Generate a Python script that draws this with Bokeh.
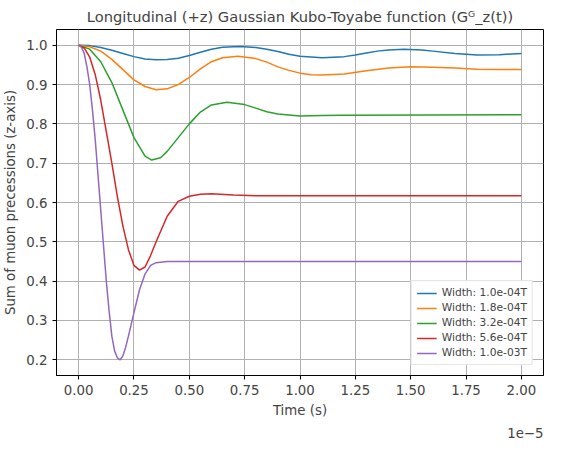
from bokeh.plotting import figure
from bokeh.models import Range1d, FixedTicker, Title
from bokeh.embed import file_html
from bokeh.resources import INLINE

# time in units of 1e-5 s
t_blue = [0, 0.05, 0.1, 0.15, 0.2, 0.25, 0.3, 0.35, 0.4, 0.45, 0.5, 0.55, 0.6, 0.65, 0.73, 0.8, 0.85, 0.9, 0.95, 1.0, 1.1, 1.2, 1.25, 1.3, 1.35, 1.4, 1.47, 1.55, 1.6, 1.7, 1.8, 1.9, 2.0]
y_blue = [1.0, 0.999, 0.994, 0.987, 0.979, 0.971, 0.965, 0.963, 0.964, 0.967, 0.974, 0.982, 0.99, 0.995, 0.997, 0.994, 0.99, 0.984, 0.977, 0.972, 0.968, 0.971, 0.975, 0.98, 0.985, 0.988, 0.99, 0.988, 0.985, 0.979, 0.975, 0.976, 0.979]

t_orange = [0, 0.05, 0.1, 0.15, 0.2, 0.25, 0.3, 0.35, 0.4, 0.45, 0.5, 0.55, 0.6, 0.65, 0.72, 0.8, 0.85, 0.9, 0.95, 1.0, 1.05, 1.1, 1.2, 1.3, 1.4, 1.5, 1.6, 1.7, 1.8, 1.9, 2.0]
y_orange = [1.0, 0.996, 0.985, 0.964, 0.938, 0.912, 0.895, 0.887, 0.889, 0.9, 0.918, 0.94, 0.958, 0.968, 0.972, 0.966, 0.957, 0.945, 0.936, 0.929, 0.925, 0.924, 0.927, 0.935, 0.942, 0.945, 0.944, 0.942, 0.939, 0.938, 0.938]

t_green = [0, 0.05, 0.1, 0.15, 0.2, 0.25, 0.3, 0.33, 0.37, 0.4, 0.45, 0.5, 0.55, 0.6, 0.67, 0.75, 0.8, 0.85, 0.9, 1.0, 1.1, 1.2, 2.0]
y_green = [1.0, 0.99, 0.958, 0.905, 0.835, 0.765, 0.718, 0.708, 0.714, 0.73, 0.765, 0.8, 0.83, 0.848, 0.855, 0.849, 0.84, 0.831, 0.825, 0.82, 0.821, 0.822, 0.823]

t_red = [0, 0.025, 0.05, 0.075, 0.1, 0.125, 0.15, 0.175, 0.2, 0.225, 0.25, 0.275, 0.3, 0.325, 0.35, 0.4, 0.45, 0.5, 0.55, 0.6, 0.7, 0.8, 2.0]
y_red = [1.0, 0.993, 0.97, 0.925, 0.86, 0.78, 0.7, 0.615, 0.54, 0.48, 0.44, 0.428, 0.436, 0.465, 0.5, 0.565, 0.603, 0.616, 0.621, 0.622, 0.619, 0.617, 0.617]

t_purple = [0, 0.0125, 0.025, 0.0375, 0.05, 0.0625, 0.075, 0.0875, 0.1, 0.1125, 0.125, 0.1375, 0.15, 0.1625, 0.175, 0.1875, 0.2, 0.2125, 0.225, 0.2375, 0.25, 0.275, 0.3, 0.325, 0.35, 0.4, 0.5, 2.0]
y_purple = [1.0, 0.995, 0.98, 0.945, 0.9, 0.835, 0.76, 0.67, 0.58, 0.49, 0.4, 0.325, 0.26, 0.222, 0.205, 0.2, 0.21, 0.232, 0.26, 0.29, 0.32, 0.378, 0.418, 0.44, 0.447, 0.45, 0.45, 0.45]

series = [
    (t_blue, y_blue, "Width: 1.0e-04T", "#1f77b4"),
    (t_orange, y_orange, "Width: 1.8e-04T", "#ff7f0e"),
    (t_green, y_green, "Width: 3.2e-04T", "#2ca02c"),
    (t_red, y_red, "Width: 5.6e-04T", "#d62728"),
    (t_purple, y_purple, "Width: 1.0e-03T", "#9467bd"),
]

x_ticks = [0, 0.25, 0.5, 0.75, 1.0, 1.25, 1.5, 1.75, 2.0]
y_ticks = [0.2, 0.3, 0.4, 0.5, 0.6, 0.7, 0.8, 0.9, 1.0]

p = figure(width=551, height=442, output_backend="svg", toolbar_location=None,
           x_axis_label="Time (s)", y_axis_label="Sum of muon precessions (z-axis)",
           x_range=Range1d(-0.1, 2.1), y_range=Range1d(0.16, 1.04),
           min_border_left=54, min_border_right=8, min_border_top=8, min_border_bottom=10)

for t, y, lab, col in series:
    p.line(t, y, legend_label=lab, color=col, line_width=1.5)

p.add_layout(Title(text="1e\u22125", align="right", text_font="DejaVu Sans",
                   text_font_size="10pt", text_font_style="normal"), "below")
p.add_layout(Title(text="Longitudinal (+z) Gaussian Kubo-Toyabe function (G\u1d33_z(t))",
                   align="center", text_font="DejaVu Sans", text_font_size="11pt",
                   text_font_style="normal"), "above")

p.xaxis.ticker = FixedTicker(ticks=x_ticks)
p.xaxis.major_label_overrides = {v: "%.2f" % v for v in x_ticks}
p.yaxis.ticker = FixedTicker(ticks=y_ticks)
p.yaxis.major_label_overrides = {v: "%.1f" % v for v in y_ticks}
for ax in (p.xaxis, p.yaxis):
    ax.major_label_text_font = "DejaVu Sans"
    ax.major_label_text_font_size = "10pt"
    ax.axis_label_text_font = "DejaVu Sans"
    ax.axis_label_text_font_size = "10pt"
    ax.axis_label_text_font_style = "normal"
    ax.minor_tick_line_color = None
    ax.major_tick_in = 0
    ax.major_tick_out = 4

p.xgrid.grid_line_color = "#b0b0b0"
p.ygrid.grid_line_color = "#b0b0b0"
p.outline_line_color = "black"

p.legend.location = "bottom_right"
p.legend.label_text_font = "DejaVu Sans"
p.legend.label_text_font_size = "8pt"
p.legend.glyph_height = 12
p.legend.label_height = 12
p.legend.spacing = 2
p.legend.padding = 5
p.legend.border_line_color = "#cccccc"

open("out.html", "w").write(file_html(p, INLINE))
